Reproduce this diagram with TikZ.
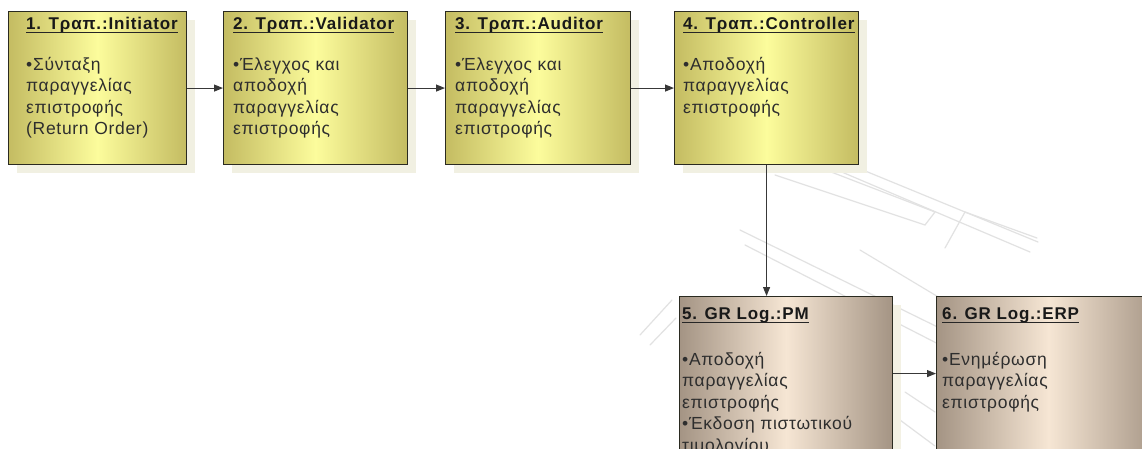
\documentclass[tikz,border=0pt]{standalone}
\usepackage{fontspec}
\setmainfont{Liberation Sans}
\newfontfamily\cardfont[LetterSpace=4]{Liberation Sans}
\newfontfamily\headfont[LetterSpace=5]{Liberation Sans}
\usetikzlibrary{arrows.meta,shadows}

\definecolor{yedge}{HTML}{C4BC62}
\definecolor{ymid}{HTML}{FCFC9C}
\definecolor{bedge}{HTML}{A49484}
\definecolor{bmid}{HTML}{F6E6D4}
\definecolor{yshade}{HTML}{F1F0E2}
\definecolor{bshade}{HTML}{F3F1E4}
\definecolor{framecol}{HTML}{2A2A20}
\definecolor{inkcol}{HTML}{2E2E2E}
\definecolor{wmark}{HTML}{E2E2E2}

% lines of a card body; the baseline of the block is that of its first line
\newcommand\cardlines[1]{\vtop{\baselineskip=21.5pt\lineskiplimit=-20pt\relax #1}}

\begin{document}
\begin{tikzpicture}[x=1pt,y=-1pt,
  card/.style={rectangle, draw=framecol, line width=1.1pt, inner sep=0pt,
    anchor=north west},
  yellowcard/.style={card, minimum height=153pt,
    left color=yedge, right color=yedge, middle color=ymid,
    general shadow={fill=yshade, shadow xshift=8pt, shadow yshift=-8pt}},
  browncard/.style={card, minimum height=154pt,
    left color=bedge, right color=bedge, middle color=bmid,
    general shadow={fill=bshade, shadow xshift=8pt, shadow yshift=-8pt}},
  cardtitle/.style={anchor=base west, inner sep=0pt, text=black!90,
    font=\headfont\fontsize{17}{20}\selectfont\bfseries},
  cardbody/.style={anchor=base west, inner sep=0pt, text=inkcol,
    font=\cardfont\fontsize{17.5}{21.5}\selectfont},
  uline/.style={line width=1.3pt, draw=black!85},
  flow/.style={draw=black!78, line width=1.1pt,
    -{Triangle[length=9pt,width=7pt]}},
  faint/.style={draw=wmark, line width=1.2pt, line cap=round}
]
\useasboundingbox (0,0) rectangle (1142,448);
\clip (0,0) rectangle (1142,448);
\fill[white] (0,0) rectangle (1142,448);

% faint background watermark strokes
\draw[faint] (785,138) -- (1038,242);
\draw[faint] (790,150) -- (1030,252);
\draw[faint] (775,175) -- (925,225) -- (935,212) -- (800,160);
\draw[faint] (945,248) -- (965,212) -- (1037,238);
\draw[faint] (740,230) -- (960,338);
\draw[faint] (745,245) -- (950,350);
\draw[faint] (860,250) -- (940,298);
\draw[faint] (640,335) -- (672,300);
\draw[faint] (650,345) -- (676,318);
\draw[faint] (900,420) -- (935,446);
\draw[faint] (905,392) -- (935,412);

% the six cards
\node[yellowcard, minimum width=178pt] (c1) at (8,11) {};
\node[yellowcard, minimum width=184pt] (c2) at (223,11) {};
\node[yellowcard, minimum width=185pt] (c3) at (445,11) {};
\node[yellowcard, minimum width=184pt] (c4) at (674,11) {};
\node[browncard, minimum width=213pt] (c5) at (679,296) {};
\node[browncard, minimum width=224pt] (c6) at (936,296) {};

% titles
\node[cardtitle] (t1) at (26,29) {1. Τραπ.:Initiator};
\node[cardtitle] (t2) at (233,29) {2. Τραπ.:Validator};
\node[cardtitle] (t3) at (455,29) {3. Τραπ.:Auditor};
\node[cardtitle] (t4) at (683,29) {4. Τραπ.:Controller};
\node[cardtitle] (t5) at (682,319) {5. GR Log.:PM};
\node[cardtitle] (t6) at (942,319) {6. GR Log.:ERP};
\foreach \t in {t1,t2,t3,t4,t5,t6}
  \draw[uline] ([yshift=-3.5pt]\t.base west) -- ([yshift=-3.5pt]\t.base east);

% card bodies
\node[cardbody] (d1) at (26,70) {\cardlines{\hbox{•Σύνταξη}\hbox{παραγγελίας}\hbox{επιστροφής}\hbox{(Return Order)}}};
\node[cardbody] (d2) at (233,70) {\cardlines{\hbox{•Έλεγχος και}\hbox{αποδοχή}\hbox{παραγγελίας}\hbox{επιστροφής}}};
\node[cardbody] (d3) at (455,70) {\cardlines{\hbox{•Έλεγχος και}\hbox{αποδοχή}\hbox{παραγγελίας}\hbox{επιστροφής}}};
\node[cardbody] (d4) at (683,70) {\cardlines{\hbox{•Αποδοχή}\hbox{παραγγελίας}\hbox{επιστροφής}}};
\node[cardbody] (d5) at (682,365) {\cardlines{\hbox{•Αποδοχή}\hbox{παραγγελίας}\hbox{επιστροφής}\hbox{•Έκδοση πιστωτικού}\hbox{τιμολογίου}}};
\node[cardbody] (d6) at (942,365) {\cardlines{\hbox{•Ενημέρωση}\hbox{παραγγελίας}\hbox{επιστροφής}}};

% connectors
\draw[flow] (c1.east) -- (c2.west);
\draw[flow] (c2.east) -- (c3.west);
\draw[flow] (c3.east) -- (c4.west);
\draw[flow] (c4.south) -- (c4.south |- c5.north);
\draw[flow] (c5.east) -- (c6.west);
\end{tikzpicture}
\end{document}
